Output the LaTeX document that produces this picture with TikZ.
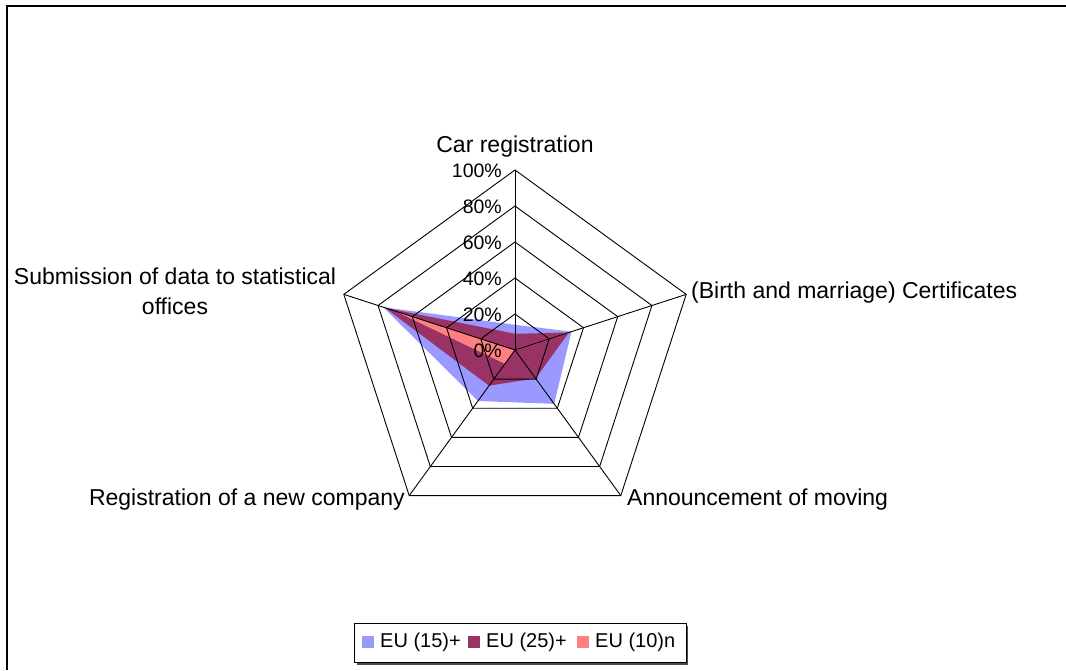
\documentclass[tikz,border=0pt]{standalone}
\usepackage{fontspec}
\setmainfont{Liberation Sans}
\definecolor{seriesA}{RGB}{153,153,255}
\definecolor{seriesB}{RGB}{153,51,102}
\definecolor{seriesC}{RGB}{255,128,128}
\tikzset{
  gridline/.style={black, line width=0.9pt},
  axislbl/.style={inner sep=0pt, font=\fontsize{23}{30}\selectfont},
  ticklbl/.style={inner sep=0pt, anchor=east, font=\fontsize{19.5}{24}\selectfont},
  keybox/.style={minimum size=12pt, inner sep=0pt},
  keytxt/.style={inner sep=0pt, anchor=west, font=\fontsize{20}{24}\selectfont}
}
\begin{document}
\begin{tikzpicture}[x=1pt, y=1pt]
  \useasboundingbox (0,0) rectangle (1066,670);

  % chart frame (right and bottom edges are cut off)
  \draw[line width=1.6pt] (7,0) -- (7,664) -- (1066,664);

  \begin{scope}[shift={(515,320)}, x=1.8pt, y=1.8pt]
    % data areas, first series at the back
    \fill[seriesA] (90:14) -- (18:33) -- (-54:37) -- (-126:35) -- (162:77) -- cycle;
    \fill[seriesB] (90:9) -- (18:31.5) -- (-54:19.5) -- (-126:24.5) -- (162:76) -- cycle;
    \fill[seriesC] (90:0) -- (18:32) -- (-54:0) -- (-126:9.5) -- (162:70) -- cycle;
    \draw[seriesC, line width=0.8pt] (0,0) -- (18:32);

    % web
    \foreach \r in {20,40,...,100}
      \draw[gridline] (90:\r) -- (18:\r) -- (-54:\r) -- (-126:\r) -- (162:\r) -- cycle;
    \foreach \a in {90,18,-54,-126,162}
      \draw[gridline] (0,0) -- (\a:100);
  \end{scope}

  % scale labels
  \foreach \p [count=\i from 0] in {0,20,...,100}
    \node[ticklbl] (tick\p) at (502, 319+\i*36) {\p\%};

  % category labels
  \node[axislbl] (carlbl) at (515,523) {Car registration};
  \node[axislbl, anchor=west] (certlbl) at (691,377) {(Birth and marriage) Certificates};
  \node[axislbl, anchor=west] (movelbl) at (627,170) {Announcement of moving};
  \node[axislbl, anchor=east] (complbl) at (405,170) {Registration of a new company};
  \node[axislbl, align=center] (sublbl) at (175,379) {Submission of data to statistical\\offices};

  % legend
  \fill[black!70] (357,5) rectangle (688,44);
  \draw[fill=white, line width=0.8pt] (354,8) rectangle (686,47);
  \node[keybox, fill=seriesA] (keyA) at (368,28) {};
  \node[keytxt] (txtA) at (380,28) {EU (15)+};
  \node[keybox, fill=seriesB] (keyB) at (474,28) {};
  \node[keytxt] (txtB) at (486,28) {EU (25)+};
  \node[keybox, fill=seriesC] (keyC) at (583,28) {};
  \node[keytxt] (txtC) at (595,28) {EU (10)n};
\end{tikzpicture}
\end{document}
